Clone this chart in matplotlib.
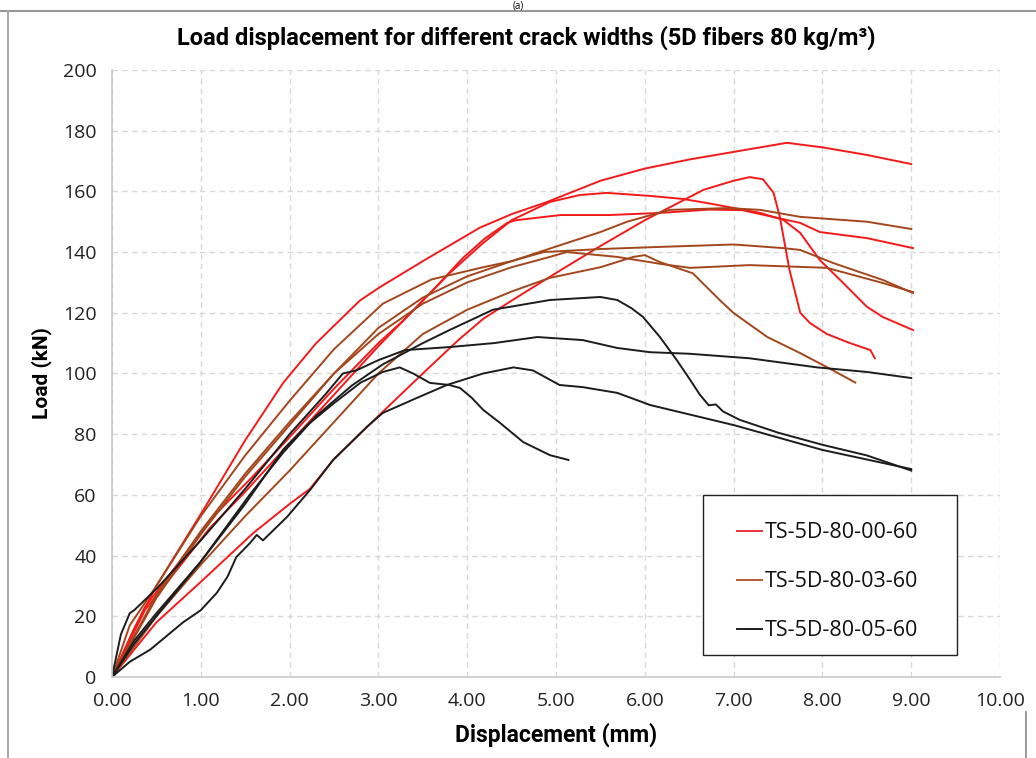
import matplotlib
matplotlib.use("Agg")
import matplotlib.pyplot as plt
from matplotlib.lines import Line2D
from matplotlib.patches import Rectangle

# ---------------- data ----------------
# TS-5D-80-00-60 (red)
r1_x = [0, 0.25, 0.5, 1.07, 1.5, 1.93, 2.3, 2.79, 3.02, 3.5, 4.14, 4.5, 4.9, 5.5, 6.0, 6.5, 7.0, 7.6, 8.0, 8.5, 9.0]
r1_y = [0, 16, 30, 57, 78, 97, 110, 124, 128.5, 137, 148, 152.5, 156.5, 163.5, 167.5, 170.5, 173, 176, 174.5, 172, 169]
r2_x = [0, 0.5, 1.01, 1.59, 2.0, 2.23, 2.49, 3.0, 3.5, 3.9, 4.18, 4.5, 5.05, 5.5, 6.0, 6.43, 6.66, 7.0, 7.18, 7.33, 7.45, 7.52,
        7.63, 7.75, 7.86, 8.05, 8.31, 8.54, 8.59]
r2_y = [0, 18, 31.6, 47.4, 57, 62, 71.5, 86, 100, 111, 118, 124, 134, 142, 150.5, 157, 160.5, 163.5, 164.7, 164, 159.5, 151.6,
        134, 120, 116.6, 113, 110, 107.7, 105]
r3_x = [0, 0.37, 0.75, 1.1, 1.5, 2.0, 2.5, 3.0, 3.4, 3.8, 4.18, 4.5, 4.93, 5.27, 5.57, 6.06, 6.43, 6.73, 7.1, 7.3, 7.56, 7.75,
        7.97, 8.2, 8.5, 8.68, 9.02]
r3_y = [0, 22, 36, 49, 61, 77, 93, 109, 121, 133, 143, 150.5, 156.5, 158.8, 159.5, 158.5, 157.5, 156, 154, 152.9, 150.6, 146.3,
        137.4, 130.8, 122, 118.6, 114.3]
r4_x = [0, 0.37, 0.75, 1.1, 1.55, 2.0, 2.5, 3.0, 3.3, 3.6, 3.95, 4.2, 4.45, 4.55, 5.05, 5.6, 6.17, 6.73, 7.1, 7.3, 7.75, 7.97,
        8.5, 9.02]
r4_y = [0, 23, 37.6, 51.7, 65, 79, 95, 110, 118, 127, 138, 144.5, 149.6, 150.5, 152.2, 152.2, 152.9, 154, 153.8, 152.5, 149.6,
        146.6, 144.6, 141.3]

# TS-5D-80-03-60 (brown)
b1_x = [0, 0.5, 1.0, 1.5, 2.0, 2.5, 3.0, 3.5, 4.0, 4.5, 5.05, 5.5, 5.8, 6.28, 6.93, 7.3, 7.75, 8.5, 9.0]
b1_y = [0, 26, 47, 66, 83, 100, 115, 125, 132, 137, 142.3, 146.6, 150, 153.9, 154.5, 153.9, 151.6, 150, 147.6]
b2_x = [0, 0.2, 0.5, 1.0, 1.5, 2.0, 2.5, 3.05, 3.6, 4.18, 4.5, 4.86, 5.5, 6.17, 7.0, 7.56, 7.75, 8.12, 8.68, 9.02]
b2_y = [0, 17, 30, 53, 73, 91, 108, 123, 131, 135, 137, 140, 141, 141.7, 142.5, 141.3, 140.7, 136.4, 130.8, 126.5]
b3_x = [0, 0.5, 1.0, 1.5, 2.0, 2.5, 3.0, 3.5, 4.0, 4.5, 4.93, 5.5, 5.87, 6.0, 6.17, 6.54, 6.85, 7.0, 7.38, 7.75, 8.12, 8.37]
b3_y = [0, 20, 37, 53, 68, 84, 100, 113, 121, 127, 131.5, 135, 138.4, 139, 136.7, 133, 124, 119.9, 112, 106.7, 101, 97]
b4_x = [0, 0.5, 1.0, 1.5, 2.0, 2.5, 3.0, 3.5, 4.0, 4.5, 4.93, 5.12, 5.69, 6.2, 6.51, 7.18, 7.86, 8.05, 8.68, 9.02]
b4_y = [0, 27, 48, 67, 84, 100, 113, 123, 130, 135, 138.4, 140, 138.4, 136, 134.8, 135.7, 135, 134.8, 129.8, 126.8]

# TS-5D-80-05-60 (black)
k1_x = [0, 0.25, 0.5, 1.0, 1.55, 1.93, 2.3, 2.7, 3.05, 3.5, 3.8, 4.29, 4.93, 5.5, 5.69, 5.85, 5.98, 6.17, 6.36, 6.51, 6.62,
        6.72, 6.8, 6.88, 7.07, 7.5, 8.0, 8.5, 9.0]
k1_y = [0, 11, 20, 38, 60, 74, 86, 96, 103, 110, 114.3, 121, 124.2, 125.2, 124.2, 121.5, 118.6, 112, 104.4, 97.9, 93,
        89.5, 89.8, 87.5, 84.7, 80.5, 76.5, 73, 68]
k2_x = [0, 0.1, 0.2, 0.25, 0.5, 1.0, 1.5, 2.0, 2.4, 2.6, 2.75, 3.0, 3.3, 3.8, 4.3, 4.79, 5.3, 5.69, 6.06, 6.5, 7.18, 7.94,
        8.5, 9.0]
k2_y = [0, 14, 21, 22, 29, 45, 62, 80, 93, 100, 101, 104.4, 107.7, 108.7, 110, 112, 111, 108.4, 107, 106.5, 105, 102,
        100.5, 98.5]
k3_x = [0, 0.25, 0.5, 1.0, 1.5, 1.93, 2.2, 2.49, 2.8, 3.05, 3.24, 3.39, 3.58, 3.8, 3.92, 4.05, 4.18, 4.37, 4.63, 4.93, 5.14]
k3_y = [0, 12, 21, 38, 57, 75, 83, 90, 97, 100.5, 102, 100, 96.9, 96.2, 95.2, 92, 88, 83.7, 77.4, 73.1, 71.5]
k4_x = [0, 0.2, 0.43, 0.8, 1.0, 1.18, 1.3, 1.4, 1.55, 1.63, 1.7, 1.97, 2.23, 2.49, 2.87, 3.05, 3.43, 3.77, 4.18, 4.52, 4.74,
        5.04, 5.3, 5.69, 6.06, 7.0, 8.0, 9.0]
k4_y = [0, 5, 9, 18, 22, 27.7, 33, 39.5, 44, 46.8, 45, 52.7, 61.6, 71.5, 82.4, 87, 91.9, 96.2, 100, 102, 101,
        96.2, 95.5, 93.6, 89.6, 83, 74.8, 68.5]

series_labels = ["TS-5D-80-00-60", "TS-5D-80-03-60", "TS-5D-80-05-60"]
x_ticks = [0, 1, 2, 3, 4, 5, 6, 7, 8, 9, 10]
y_ticks = [0, 20, 40, 60, 80, 100, 120, 140, 160, 180, 200]

RED = "#f41a1a"
BROWN = "#a3461c"
BLACK = "#1c1c1c"

plt.rcParams['font.family'] = ['Open Sans', 'DejaVu Sans']
LABEL_FONT = ['Roboto', 'DejaVu Sans']

fig = plt.figure(figsize=(10.36, 7.58), dpi=100)
ax = fig.add_axes([0.1081, 0.1069, 0.8572, 0.8008])

groups = [
    (RED, [(r1_x, r1_y), (r2_x, r2_y), (r3_x, r3_y), (r4_x, r4_y)]),
    (BROWN, [(b1_x, b1_y), (b2_x, b2_y), (b3_x, b3_y), (b4_x, b4_y)]),
    (BLACK, [(k1_x, k1_y), (k2_x, k2_y), (k3_x, k3_y), (k4_x, k4_y)]),
]
for color, curves in groups:
    for xs, ys in curves:
        ax.plot(xs, ys, color=color, lw=1.4, solid_joinstyle='round')

ax.set_xlim(0, 10)
ax.set_ylim(0, 200)
ax.set_xticks(x_ticks)
ax.set_xticklabels([f"{v:.2f}" for v in x_ticks])
ax.set_yticks(y_ticks)
ax.set_yticklabels([str(v) for v in y_ticks])
ax.tick_params(length=0, labelsize=14, colors="#222222")
ax.tick_params(axis='y', pad=11)
ax.tick_params(axis='x', pad=11)
ax.grid(True, color="#d8d8d8", linestyle=(0, (4, 3)), linewidth=1.0)
ax.set_axisbelow(True)
for s in ["top", "right"]:
    ax.spines[s].set_visible(False)
for s in ["left", "bottom"]:
    ax.spines[s].set_color("#c8c8c8")
    ax.spines[s].set_linewidth(1.2)

ax.set_xlabel("Displacement (mm)", fontsize=16.5, fontweight="bold", family=LABEL_FONT, labelpad=9)
ax.set_ylabel("Load (kN)", fontsize=15, fontweight="bold", family=LABEL_FONT, labelpad=8)
ax.set_title("Load displacement for different crack widths (5D fibers 80 kg/m\u00b3)",
             fontsize=17, fontweight="bold", family=LABEL_FONT, pad=18, x=0.467)

# legend: framed box drawn separately, entries placed inside it
ax.add_patch(Rectangle((0.6655, 0.0362), 0.2861, 0.2636, transform=ax.transAxes,
                       facecolor="white", edgecolor="#222222", lw=1.0, zorder=5))
handles = [Line2D([], [], color=c, lw=1.4) for c in ["#e8323c", "#b55a35", BLACK]]
leg = ax.legend(handles, series_labels, loc="center left",
                bbox_to_anchor=(0.7038, 0.1565), borderaxespad=0, borderpad=0,
                fontsize=15.5, frameon=False, handlelength=1.16, handletextpad=0.12,
                labelspacing=1.3)
leg.set_zorder(6)
for t in leg.get_texts():
    t.set_color("#111111")

# page decorations from the source document
fig.add_artist(Line2D([0, 1], [1 - 10.5 / 758] * 2, color="#999999", lw=1.5, transform=fig.transFigure))
fig.add_artist(Line2D([8 / 1036] * 2, [0, 1 - 10.5 / 758], color="#aaaaaa", lw=1.5, transform=fig.transFigure))
fig.add_artist(Line2D([1026 / 1036] * 2, [0, 1 - 712 / 758], color="#888888", lw=1.2, transform=fig.transFigure))
fig.text(0.5, 1 - 0.5 / 758, "(a)", ha="center", va="top", fontsize=7)

fig.savefig("out.png", dpi=100)
